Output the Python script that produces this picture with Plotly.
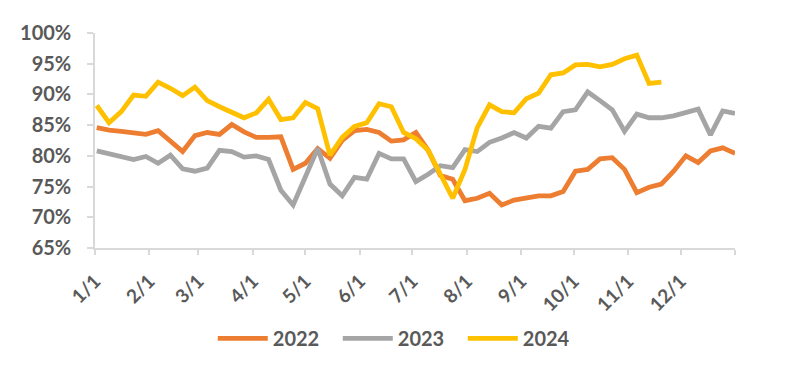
import pandas as pd
import plotly.graph_objects as go

# Weekly observations (plotted on a common calendar year)
weeks = pd.date_range("2001-01-02", periods=53, freq="7D")

y2022 = [84.6, 84.2, 84.0, 83.8, 83.5, 84.1, 82.5, 80.7, 83.3, 83.8, 83.5, 85.1, 83.9,
         83.0, 83.0, 83.1, 77.8, 78.8, 81.2, 79.6, 82.5, 84.1, 84.3, 83.8, 82.4, 82.6,
         83.8, 80.9, 76.8, 76.2, 72.7, 73.1, 73.9, 72.0, 72.8, 73.2, 73.5, 73.5, 74.2,
         77.5, 77.8, 79.5, 79.7, 77.8, 74.0, 74.9, 75.4, 77.5, 80.0, 78.9, 80.8, 81.3, 80.4]

y2023 = [80.8, 80.3, 79.8, 79.4, 79.9, 78.8, 80.1, 77.9, 77.5, 78.0, 80.9, 80.7, 79.8,
         80.0, 79.4, 74.4, 72.0, 76.8, 81.2, 75.4, 73.5, 76.5, 76.2, 80.4, 79.5, 79.5,
         75.8, 77.0, 78.4, 78.1, 81.0, 80.7, 82.2, 82.9, 83.8, 82.9, 84.8, 84.5, 87.2,
         87.5, 90.4, 89.0, 87.5, 84.0, 86.8, 86.2, 86.2, 86.5, 87.1, 87.6, 83.4, 87.3, 86.9]

y2024 = [88.2, 85.4, 87.2, 89.9, 89.7, 92.0, 91.0, 89.8, 91.2, 89.0, 88.0, 87.1, 86.2,
         87.0, 89.2, 85.9, 86.2, 88.7, 87.7, 80.1, 83.0, 84.8, 85.4, 88.5, 88.0, 83.8,
         82.8, 80.9, 76.8, 73.1, 77.8, 84.6, 88.3, 87.2, 87.0, 89.3, 90.2, 93.2, 93.5,
         94.8, 94.9, 94.5, 94.9, 95.8, 96.4, 91.8, 92.0]

series_names = ["2022", "2023", "2024"]
series_values = [y2022, y2023, y2024]
colors = ["#ED7D31", "#A5A5A5", "#FFC000"]

month_ticks = [f"2001-{m:02d}-01" for m in range(1, 13)] + ["2002-01-01"]
month_labels = [f"{m}/1" for m in range(1, 13)] + [""]

y_ticks = [65, 70, 75, 80, 85, 90, 95, 100]
y_labels = [f"{v}%" for v in y_ticks]

fig = go.Figure()
for name, vals, col in zip(series_names, series_values, colors):
    fig.add_trace(go.Scatter(
        x=weeks[:len(vals)], y=vals, name=name, mode="lines",
        line=dict(color=col, width=4.8),
    ))

font_color = "#595959"
fig.update_layout(
    width=779, height=369,
    margin=dict(l=84, r=52, t=17, b=129),
    paper_bgcolor="white", plot_bgcolor="white",
    font=dict(family="Lato", color=font_color),
    showlegend=True,
    legend=dict(
        orientation="h", x=0.477, xanchor="center", y=-0.42, yanchor="middle",
        font=dict(size=20, color=font_color, weight="bold"),
        itemwidth=50, entrywidth=60, entrywidthmode="pixels",
    ),
    xaxis=dict(
        type="date", range=["2001-01-01", "2002-01-01"],
        tickmode="array", tickvals=month_ticks, ticktext=month_labels,
        tickangle=-45, ticks="outside", ticklen=5, tickcolor="#d9d9d9", tickwidth=1.5,
        showline=True, linecolor="#d9d9d9", linewidth=1.5,
        showgrid=False, zeroline=False,
        tickfont=dict(size=19, color=font_color, weight="bold"),
        ticklabelstandoff=8,
    ),
    yaxis=dict(
        range=[65, 100], tickmode="array", tickvals=y_ticks, ticktext=y_labels,
        ticks="outside", ticklen=6, tickcolor="#d9d9d9", tickwidth=1.5,
        showline=True, linecolor="#d9d9d9", linewidth=1.5,
        showgrid=False, zeroline=False,
        tickfont=dict(size=20, color=font_color, weight="bold"),
        ticklabelstandoff=12,
    ),
)

fig.write_html("out.html")
